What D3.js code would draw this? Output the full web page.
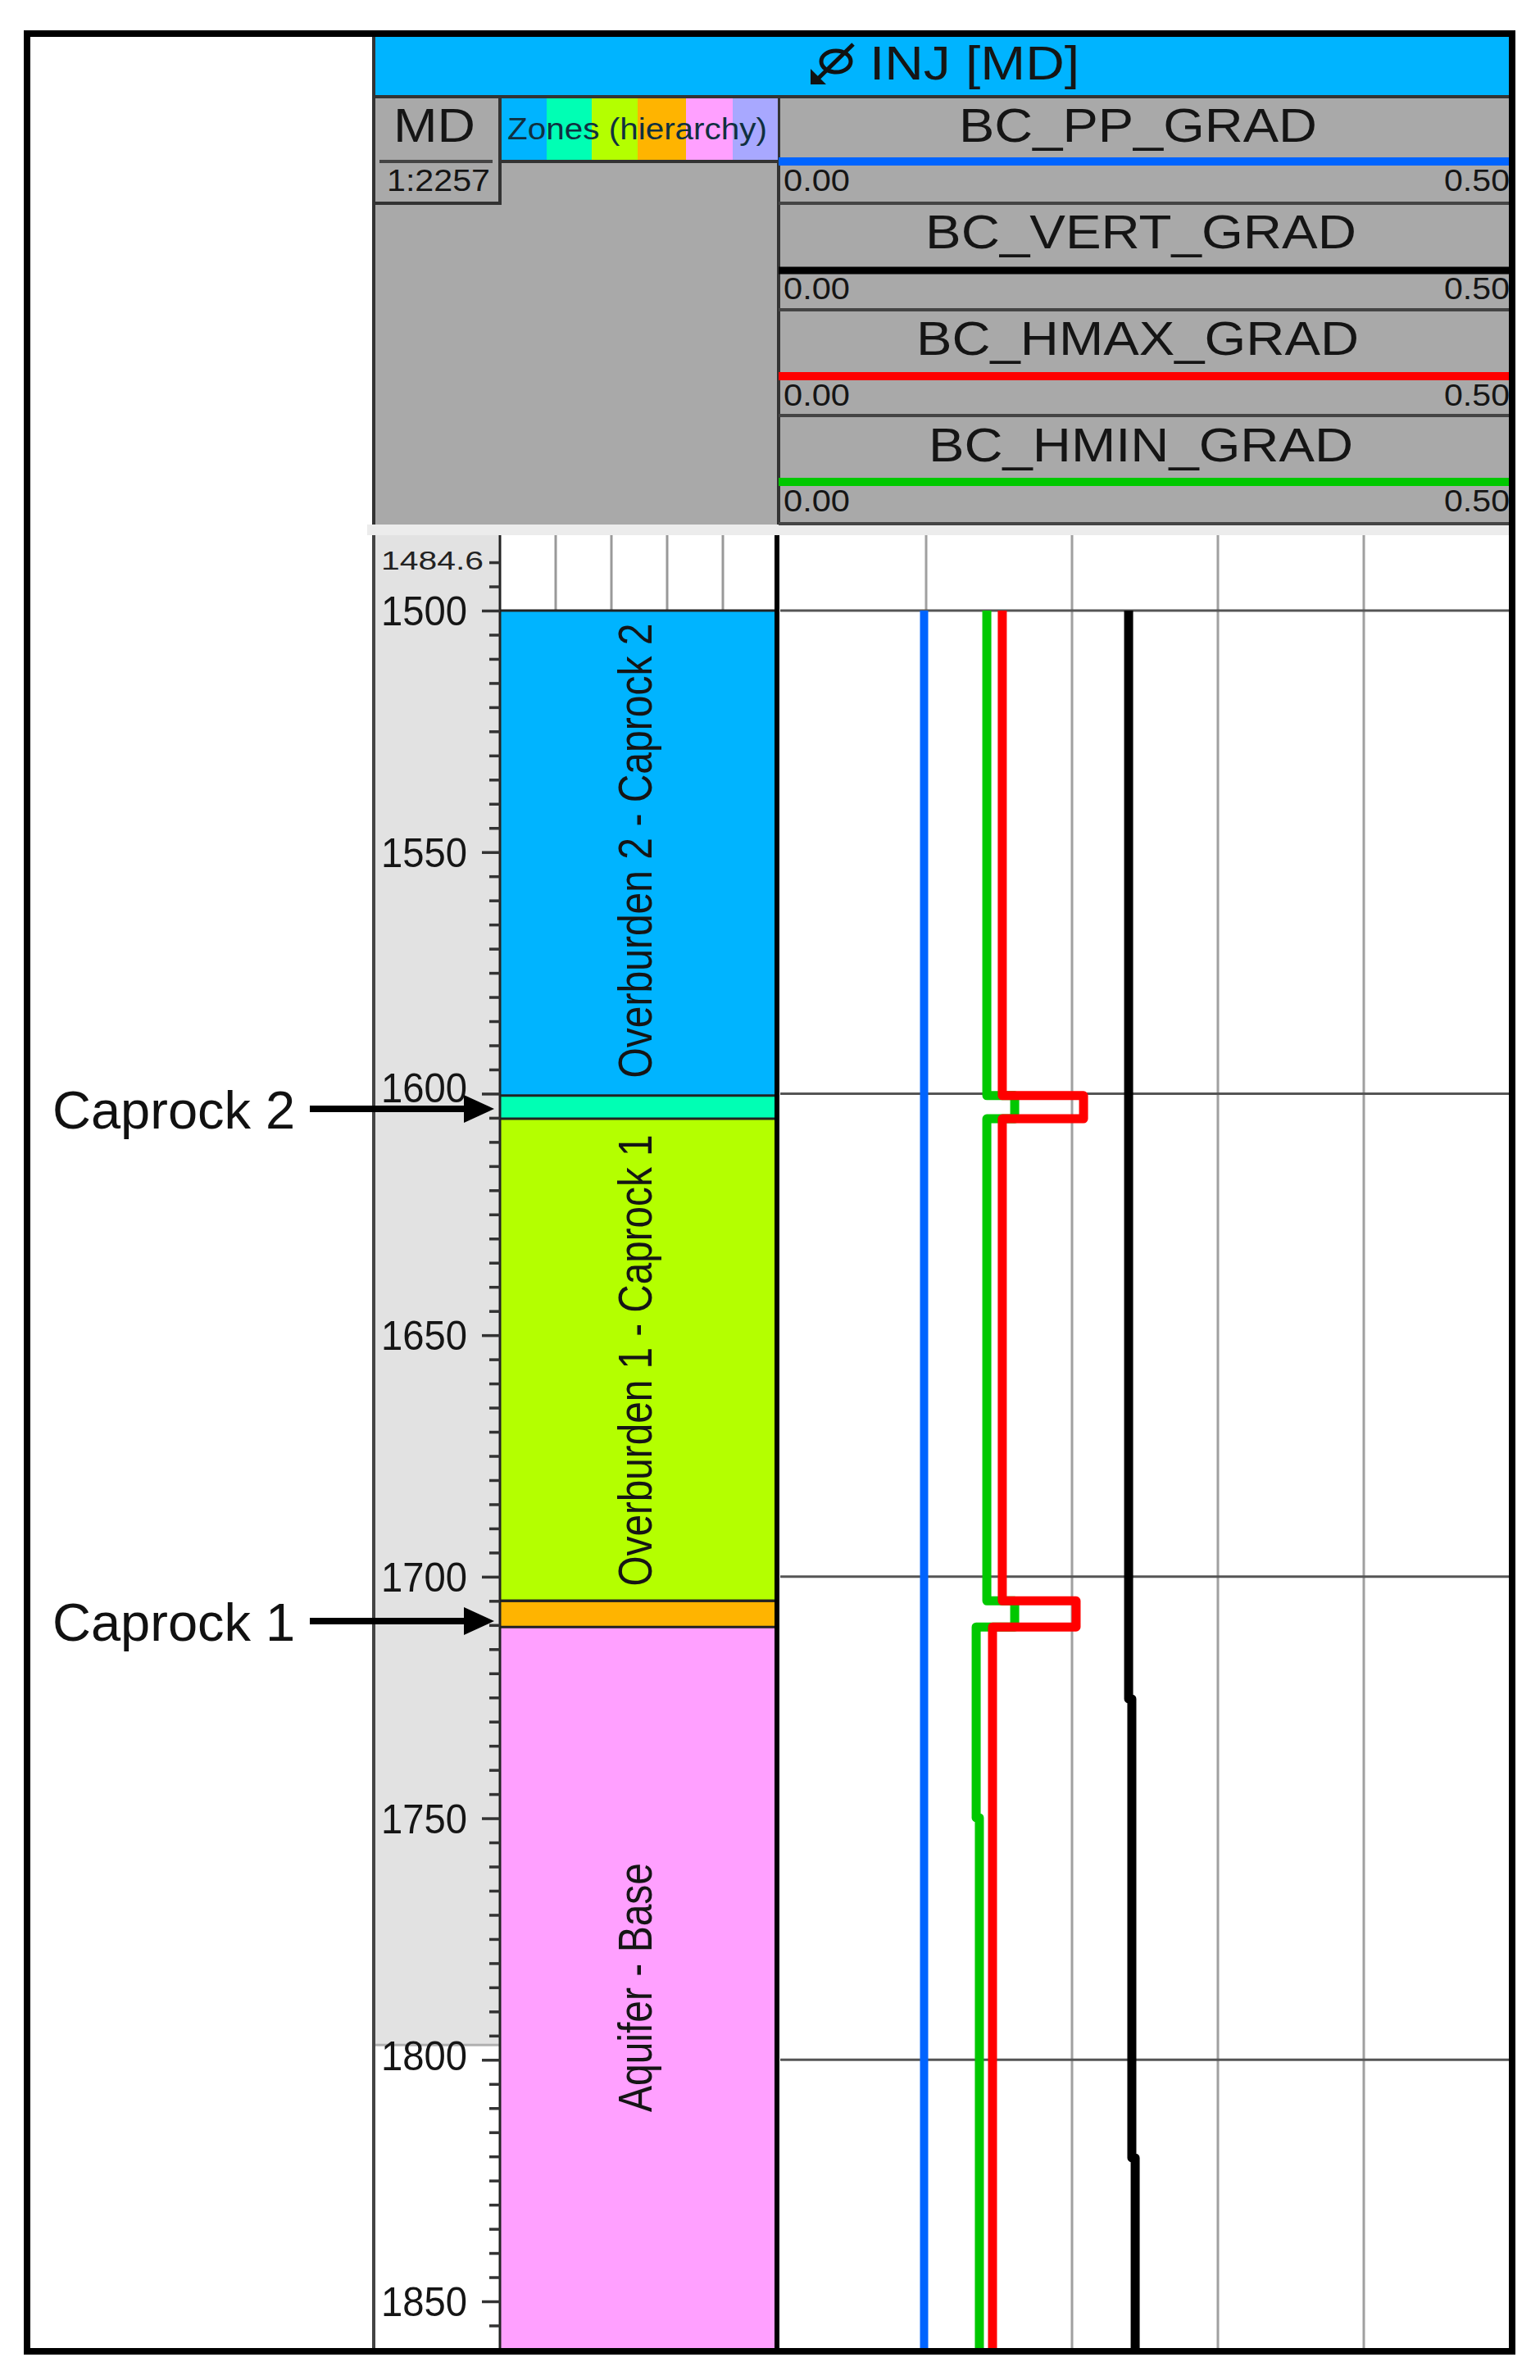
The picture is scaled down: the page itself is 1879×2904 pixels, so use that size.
<!DOCTYPE html>
<html>
<head>
<meta charset="utf-8">
<script src="https://cdn.jsdelivr.net/npm/d3@7"></script>
<style>
body { margin: 0; background: #fff; }
text { font-family: "Liberation Sans", Arial, sans-serif; fill: #151515; }
</style>
</head>
<body>
<script>
// zones
var zoneNames = ["Overburden 2 - Caprock 2", "", "Overburden 1 - Caprock 1", "", "Aquifer - Base"];
var zoneTops = [1500, 1600.4, 1605.2, 1705, 1710.4];
var zoneBases = [1600.4, 1605.2, 1705, 1710.4, 1860];
var zoneColors = ["#00b4ff", "#00ffb4", "#b4ff00", "#ffb400", "#ffa0ff"];
var legendColors = ["#00b4ff", "#00ffb4", "#b4ff00", "#ffb400", "#ffa0ff", "#a8a8ff"];

// depth axis
var labelledDepths = [1500, 1550, 1600, 1650, 1700, 1750, 1800, 1850];
var gridDepths = [1500, 1600, 1700, 1800];
var gradGrid = [0.1, 0.2, 0.3, 0.4];

// curves, depth and gradient
var ppDepth = [1500, 1860];
var ppGrad = [0.0986, 0.0986];
var vertDepth = [1500, 1725.3, 1725.3, 1820.3, 1820.3, 1860];
var vertGrad = [0.2388, 0.2388, 0.241, 0.241, 0.2433, 0.2433];
var hminDepth = [1500, 1600.4, 1600.4, 1605.2, 1605.2, 1705, 1705, 1710.4, 1710.4, 1749.9, 1749.9, 1860];
var hminGrad = [0.1416, 0.1416, 0.1607, 0.1607, 0.1416, 0.1416, 0.1607, 0.1607, 0.1343, 0.1343, 0.1365, 0.1365];
var hmaxDepth = [1500, 1600.4, 1600.4, 1605.2, 1605.2, 1705, 1705, 1710.4, 1710.4, 1860];
var hmaxGrad = [0.1522, 0.1522, 0.2079, 0.2079, 0.1522, 0.1522, 0.2028, 0.2028, 0.1455, 0.1455];

var panelNames = ["BC_PP_GRAD", "BC_VERT_GRAD", "BC_HMAX_GRAD", "BC_HMIN_GRAD"];
var panelColors = ["#0064ff", "#000000", "#ff0000", "#00c800"];

var width = 1879, height = 2904;
var svg = d3.select("body").append("svg").attr("width", width).attr("height", height).style("display", "block");

var y = d3.scaleLinear().domain([1500, 1850]).range([745, 2808]);
var x = d3.scaleLinear().domain([0, 0.5]).range([952, 1842]);
var bottom = y(1860);

function txt(s, px, py, size, len, anchor) {
    var t = svg.append("text").attr("x", px).attr("y", py).attr("font-size", size).text(s);
    if (anchor) t.attr("text-anchor", anchor);
    if (len) t.attr("textLength", len).attr("lengthAdjust", "spacingAndGlyphs");
    return t;
}

// header
svg.append("rect").attr("x", 456).attr("y", 40).attr("width", 1386).attr("height", 600).attr("fill", "#a9a9a9");
svg.append("rect").attr("x", 456).attr("y", 40).attr("width", 1386).attr("height", 78).attr("fill", "#00b4ff");
svg.append("rect").attr("x", 448).attr("y", 640).attr("width", 1394).attr("height", 13).attr("fill", "#ececec");

function hline(x1, x2, py, w, c) {
    svg.append("line").attr("x1", x1).attr("x2", x2).attr("y1", py).attr("y2", py)
        .attr("stroke", c || "#333").attr("stroke-width", w || 3);
}
function vline(px, y1, y2, w, c) {
    svg.append("line").attr("x1", px).attr("x2", px).attr("y1", y1).attr("y2", y2)
        .attr("stroke", c || "#333").attr("stroke-width", w || 3);
}

hline(456, 1842, 118, 4);
vline(610, 118, 248, 4);
vline(950, 118, 640, 4);
hline(456, 612, 248, 4);
hline(463, 601, 197, 4, "#444");
hline(612, 950, 197, 4);

// legend swatch for the zones
var legendEdges = [612, 667, 722, 778, 837, 894, 949];
svg.selectAll("rect.legend").data(legendColors).enter().append("rect")
    .attr("class", "legend")
    .attr("x", function(d, i){ return legendEdges[i]; })
    .attr("y", 120)
    .attr("width", function(d, i){ return legendEdges[i + 1] - legendEdges[i]; })
    .attr("height", 75)
    .attr("fill", function(d){ return d; });

txt("Zones (hierarchy)", 619, 170, 36, 317).style("fill", "#103040");
txt("MD", 480, 173, 58, 100);
txt("1:2257", 472, 233, 36, 126);
txt("INJ [MD]", 1061, 97, 58, 256);

// well symbol in the title
var icon = svg.append("g").attr("fill", "none").attr("stroke", "#111");
icon.append("ellipse").attr("cx", 1020).attr("cy", 75).attr("rx", 18).attr("ry", 13).attr("stroke-width", 5);
icon.append("line").attr("x1", 1041).attr("y1", 54).attr("x2", 998).attr("y2", 96).attr("stroke-width", 5);
svg.append("path").attr("d", "M989,103 L989,84 L1008,103 Z").attr("fill", "#111");

// curve panels in the header
var rowTitle = [173, 303, 433, 563];
var rowLine = [197, 330, 459, 588];
var rowScale = [233, 365, 495, 624];
var rowSep = [248, 378, 507, 639];
var titleLeft = [1170, 1129, 1118, 1133];
var titleLen = [437, 526, 540, 518];
panelNames.forEach(function(name, i) {
    txt(name, titleLeft[i], rowTitle[i], 58, titleLen[i]);
    hline(950, 1842, rowLine[i], i == 1 ? 9 : 10, panelColors[i]);
    txt("0.00", 956, rowScale[i], 36, 81);
    txt("0.50", 1762, rowScale[i], 36, 80);
    hline(950, 1842, rowSep[i], 4, "#444");
});
vline(456, 40, 640, 4);

// log body
svg.append("rect").attr("x", 456).attr("y", 653).attr("width", 154).attr("height", y(1800) - 18 - 653).attr("fill", "#e2e2e2");
hline(456, 610, y(1800) - 18, 3, "#b0b0b0");
vline(456, 653, bottom, 4, "#444");

var zoneGrid = d3.scaleLinear().domain([0, 5]).range([610, 950]);
[1, 2, 3, 4].forEach(function(k) {
    vline(zoneGrid(k), 653, y(1500), 3, "#999");
});
gradGrid.forEach(function(v) {
    vline(x(v), 653, bottom, 3, "#a0a0a0");
});

var zones = svg.selectAll("g.zone").data(zoneNames).enter().append("g").attr("class", "zone");
zones.append("rect")
    .attr("x", 610)
    .attr("y", function(d, i){ return y(zoneTops[i]); })
    .attr("width", 338)
    .attr("height", function(d, i){ return y(zoneBases[i]) - y(zoneTops[i]); })
    .attr("fill", function(d, i){ return zoneColors[i]; });

// rotated zone names
var zoneTextLen = [555, 551, 304];
var zoneTextMid = [1038, 1660, 2425];
zoneNames.filter(function(d){ return d; }).forEach(function(d, i) {
    svg.append("text")
        .attr("transform", "translate(795," + zoneTextMid[i] + ") rotate(-90)")
        .attr("text-anchor", "middle")
        .attr("font-size", 58)
        .attr("textLength", zoneTextLen[i])
        .attr("lengthAdjust", "spacingAndGlyphs")
        .text(d);
});

zoneTops.slice(1).concat([1705.2 - 0.2]).forEach(function(d) {
    hline(610, 948, y(d), 3, "#222");
});

gridDepths.forEach(function(d) {
    hline(952, 1842, y(d), 3, "#555");
});
hline(610, 948, y(1500), 3, "#222");

vline(610, 653, bottom, 3, "#222");
vline(948, 653, bottom, 6, "#000");

// depth ticks, one every 5 m
var minorTicks = d3.range(1490, 1860, 5);
var tickAxis = d3.axisLeft(y).tickValues(minorTicks).tickFormat("").tickSizeOuter(0)
    .tickSize(13);
var axisG = svg.append("g").attr("transform", "translate(610,0)").call(tickAxis);
axisG.select(".domain").remove();
axisG.selectAll(".tick line")
    .attr("stroke", "#333").attr("stroke-width", 3.5)
    .attr("x2", function(d){ return d % 50 == 0 ? -22 : -13; });

txt("1484.6", 465, 695, 31, 125).style("fill", "#222");
var labelNudge = {1600: -7, 1800: -5};
labelledDepths.forEach(function(d) {
    txt(String(d), 465, y(d) + 18 + (labelNudge[d] || 0), 50, 105);
});

// curves
var line = d3.line().x(function(d){ return x(d[1]); }).y(function(d){ return y(d[0]); });
function curve(depths, vals, color, w) {
    svg.append("path")
        .datum(depths.map(function(d, i){ return [d, vals[i]]; }))
        .attr("d", line)
        .attr("fill", "none")
        .attr("stroke", color)
        .attr("stroke-width", w)
        .attr("stroke-linejoin", "round");
}
curve(ppDepth, ppGrad, "#0064ff", 10);
curve(vertDepth, vertGrad, "#000000", 11);
curve(hminDepth, hminGrad, "#00c800", 11);
curve(hmaxDepth, hmaxGrad, "#ff0000", 11);

// caprock annotations
svg.append("text").attr("x", 64).attr("y", 1377).attr("font-size", 65).style("fill", "#111").text("Caprock 2");
svg.append("text").attr("x", 64).attr("y", 2002).attr("font-size", 65).style("fill", "#111").text("Caprock 1");
[1353, 1978].forEach(function(py) {
    hline(378, 570, py, 8, "#000");
    svg.append("path").attr("d", "M566," + (py - 17) + " L603," + py + " L566," + (py + 17) + " Z").attr("fill", "#000");
});

// outer frame
svg.append("rect").attr("x", 33).attr("y", 41).attr("width", 1812).attr("height", 2828)
    .attr("fill", "none").attr("stroke", "#000").attr("stroke-width", 8);
</script>
</body>
</html>
